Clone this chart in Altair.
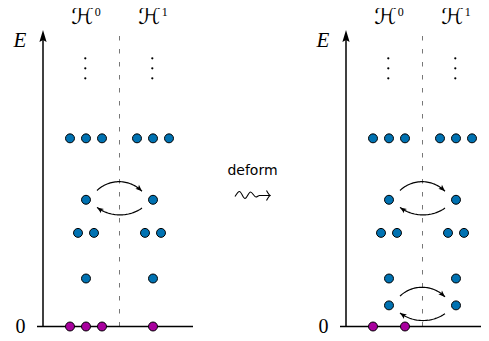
import numpy as np
import pandas as pd
import altair as alt

# ---------------- data ----------------
BLUE = "#0072B2"
MAGENTA = "#A8009E"

# energy unit: gap between ground level (0) and first single excited level (1)
# each level: (energy, dot positions in units of dot spacing)
before_H0 = [(0.0, [-1, 0, 1]), (1.0, [0]), (1.95, [-0.5, 0.5]), (2.64, [0]), (3.92, [-1, 0, 1])]
before_H1 = [(0.0, [0]), (1.0, [0]), (1.95, [-0.5, 0.5]), (2.64, [0]), (3.92, [-1, 0, 1])]
after_H0 = [(0.0, [-1, 1]), (0.44, [0]), (1.0, [0]), (1.95, [-0.5, 0.5]), (2.64, [0]), (3.92, [-1, 0, 1])]
after_H1 = [(0.44, [0]), (1.0, [0]), (1.95, [-0.5, 0.5]), (2.64, [0]), (3.92, [-1, 0, 1])]

# levels linked by the pair of curved arrows (H0 -> H1 above, H1 -> H0 below)
before_links = [2.64]
after_links = [0.44, 2.64]

sector_labels = ["0", "1"]
deform_label = "deform"

# squiggle-arrow glyph outline (pixel offsets from its start point)
squig_dx = [0, 4.5, 10, 15.5, 21, 24.5, 35.5]
squig_dy = [1.5, -3.5, 3.5, -3, 2, 0.5, 0.5]
squig_head_dx = [31.5, 35.5, 31.5]
squig_head_dy = [-4.5, 0.5, 5.5]

# ---------------- layout ----------------
Y0 = 326.5        # pixel row of E = 0
PX_PER_E = 48.0   # pixels per energy unit
AXIS_X = {"before": 43.0, "after": 346.0}
COL = {"H0": 43.0, "H1": 110.0}
DASH = 76.5
SPACING = 16.0


def E_of(py):
    return (Y0 - py) / PX_PER_E


XS = alt.Scale(domain=[8, 481], nice=False, zero=False)
YS = alt.Scale(domain=[E_of(333), E_of(8)], nice=False, zero=False)


def xe(field="x"):
    return alt.X(f"{field}:Q", scale=XS, axis=None)


def ye(field="E"):
    return alt.Y(f"{field}:Q", scale=YS, axis=None)


panels = {
    "before": {"H0": before_H0, "H1": before_H1, "links": before_links},
    "after": {"H0": after_H0, "H1": after_H1, "links": after_links},
}

# dots
dot_rows = []
for p, d in panels.items():
    for sec in ["H0", "H1"]:
        for E, pos in d[sec]:
            for k in pos:
                dot_rows.append({"x": AXIS_X[p] + COL[sec] + k * SPACING, "E": E,
                                 "kind": "zero" if E == 0 else "excited"})
dots_df = pd.DataFrame(dot_rows)

# vertical ellipses
ell_rows = []
for p in panels:
    for sec in ["H0", "H1"]:
        for py in [58.3, 68.3, 78.3]:
            ell_rows.append({"x": AXIS_X[p] + COL[sec] - 0.7, "E": E_of(py)})
ell_df = pd.DataFrame(ell_rows)

# axes
axis_df = pd.DataFrame([{"x": AXIS_X[p], "E": 0.0, "E2": E_of(38)} for p in panels])
head_df = pd.DataFrame([{"x": AXIS_X[p], "E": E_of(36)} for p in panels])
base_df = pd.DataFrame([{"x": AXIS_X[p] - 6, "x2": min(AXIS_X[p] + 150, 481), "E": 0.0} for p in panels])
dash_df = pd.DataFrame([{"x": AXIS_X[p] + DASH, "E": 0.0, "E2": E_of(33)} for p in panels])


# curved arrows (circular arcs)
def arc(x1, y1, x2, y2, sag, up, n=40):
    L = np.hypot(x2 - x1, y2 - y1)
    R = (L * L / 4 + sag * sag) / (2 * sag)
    mx, my = (x1 + x2) / 2, (y1 + y2) / 2
    ux, uy = (x2 - x1) / L, (y2 - y1) / L
    nx, ny = uy, -ux
    if (ny < 0) != up:
        nx, ny = -nx, -ny
    cx, cy = mx - nx * (R - sag), my - ny * (R - sag)
    a1 = np.arctan2(y1 - cy, x1 - cx)
    a2 = np.arctan2(y2 - cy, x2 - cx)
    da = (a2 - a1 + np.pi) % (2 * np.pi) - np.pi
    t = np.linspace(0, 1, n)
    a = a1 + da * t
    return cx + R * np.cos(a), cy + R * np.sin(a)


arc_rows, ah_rows = [], []
aid = 0
AH = 7.0
for p, d in panels.items():
    for E in d["links"]:
        row = Y0 - E * PX_PER_E
        h0 = AXIS_X[p] + COL["H0"]
        h1 = AXIS_X[p] + COL["H1"]
        specs = [
            (h0 + 11, row - 9.3, h1 - 11, row - 8.5, 9.2, True),
            (h1 - 11, row + 8.3, h0 + 11, row + 7.6, 7.2, False),
        ]
        for x1, y1, x2, y2, s, up in specs:
            xs, ys = arc(x1, y1, x2, y2, s, up)
            for i, (xx, yy) in enumerate(zip(xs, ys)):
                arc_rows.append({"arc": aid, "i": i, "x": xx, "E": E_of(yy)})
            dx, dy = xs[-1] - xs[-3], ys[-1] - ys[-3]
            nrm = np.hypot(dx, dy)
            dx, dy = dx / nrm, dy / nrm
            cxp, cyp = xs[-1] - dx * AH / 2, ys[-1] - dy * AH / 2
            ang = float(np.degrees(np.arctan2(dx, -dy)) % 360)
            ah_rows.append({"x": cxp, "E": E_of(cyp), "angle": ang})
            aid += 1
arc_df = pd.DataFrame(arc_rows)
ah_df = pd.DataFrame(ah_rows)

# labels
H_rows, sup_rows, E_rows, zero_rows = [], [], [], []
for p in panels:
    for sec, lab in zip(["H0", "H1"], sector_labels):
        c = AXIS_X[p] + COL[sec]
        H_rows.append({"x": c + 8.0, "E": E_of(23.5), "t": "ℋ"})
        sup_rows.append({"x": c + 8.8, "E": E_of(16), "t": lab})
    E_rows.append({"x": AXIS_X[p] - 23, "E": E_of(46.5), "t": "E"})
    zero_rows.append({"x": AXIS_X[p] - 22.5, "E": E_of(333), "t": "0"})

deform_df = pd.DataFrame([{"x": 252.5, "E": E_of(175), "t": deform_label}])

SQ_X, SQ_Y = 235.0, 195.0
sq_rows = []
for i, (dx, dy) in enumerate(zip(squig_dx, squig_dy)):
    sq_rows.append({"part": "wave", "i": i, "x": SQ_X + dx, "E": E_of(SQ_Y + dy)})
for i, (dx, dy) in enumerate(zip(squig_head_dx, squig_head_dy)):
    sq_rows.append({"part": "head", "i": i, "x": SQ_X + dx, "E": E_of(SQ_Y + dy)})
sq_df = pd.DataFrame(sq_rows)

# ---------------- chart ----------------
dash = alt.Chart(dash_df).mark_rule(color="#777777", strokeWidth=1, strokeDash=[4.5, 8.5]).encode(
    x=xe(), y=ye(), y2="E2:Q")
axis = alt.Chart(axis_df).mark_rule(color="black", strokeWidth=1.5).encode(x=xe(), y=ye(), y2="E2:Q")
head = alt.Chart(head_df).mark_point(shape="M0,-1L0.6,1L0,0.65L-0.6,1Z", filled=True, color="black",
                                     opacity=1, size=144, strokeWidth=0).encode(x=xe(), y=ye())
base = alt.Chart(base_df).mark_rule(color="black", strokeWidth=1.5, clip=True).encode(x=xe(), x2="x2:Q", y=ye())
ell = alt.Chart(ell_df).mark_circle(color="black", size=5, opacity=1).encode(x=xe(), y=ye())
arcs = alt.Chart(arc_df).mark_line(color="black", strokeWidth=1.2).encode(
    x=xe(), y=ye(), detail="arc:N", order="i:Q")
heads = alt.Chart(ah_df).mark_point(shape="M0,-1L0.75,0.9L0,0.45L-0.75,0.9Z", filled=True, color="black",
                                    opacity=1, size=49, strokeWidth=0).encode(
    x=xe(), y=ye(), angle=alt.Angle("angle:Q", scale=None))
dots = alt.Chart(dots_df).mark_circle(size=80, stroke="black", strokeWidth=1, opacity=1).encode(
    x=xe(), y=ye(),
    color=alt.Color("kind:N", scale=alt.Scale(domain=["zero", "excited"], range=[MAGENTA, BLUE]), legend=None))

Ht = alt.Chart(pd.DataFrame(H_rows)).mark_text(font="DejaVu Sans", fontSize=23, align="right",
                                               baseline="alphabetic", color="black").encode(
    x=xe(), y=ye(), text="t:N")
supt = alt.Chart(pd.DataFrame(sup_rows)).mark_text(font="Liberation Serif", fontSize=12, align="left",
                                                   baseline="alphabetic", color="black").encode(
    x=xe(), y=ye(), text="t:N")
Et = alt.Chart(pd.DataFrame(E_rows)).mark_text(font="Liberation Serif", fontStyle="italic", fontSize=21,
                                               align="center", baseline="alphabetic", color="black").encode(
    x=xe(), y=ye(), text="t:N")
zt = alt.Chart(pd.DataFrame(zero_rows)).mark_text(font="Liberation Serif", fontSize=20, align="center",
                                                  baseline="alphabetic", color="black").encode(
    x=xe(), y=ye(), text="t:N")
dt = alt.Chart(deform_df).mark_text(font="DejaVu Sans", fontSize=14, align="center",
                                    baseline="alphabetic", color="black").encode(x=xe(), y=ye(), text="t:N")
sq = alt.Chart(sq_df).mark_line(color="black", strokeWidth=1.1, interpolate="monotone").encode(
    x=xe(), y=ye(), detail="part:N", order="i:Q")

chart = alt.layer(dash, base, axis, head, ell, arcs, heads, dots, Ht, supt, Et, zt, dt, sq).properties(
    width=473, height=325, padding=0, autosize=alt.AutoSizeParams(type="none"),
    background="white",
).configure_view(stroke=None)

chart.save("out.html", embed_options={"renderer": "svg", "actions": False})
